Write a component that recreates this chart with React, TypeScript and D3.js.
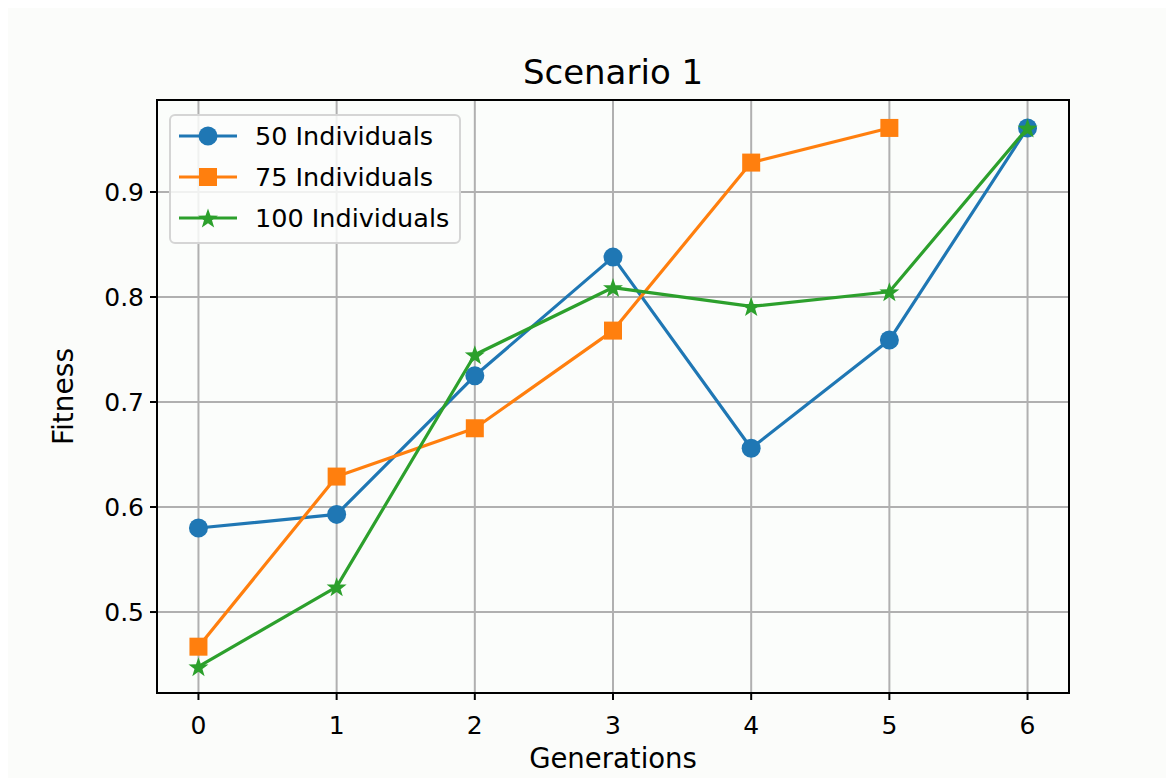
import React from "react";
import * as d3 from "d3";

const generations = [0, 1, 2, 3, 4, 5, 6];
const series50 = [0.58, 0.593, 0.725, 0.838, 0.656, 0.759, 0.961];
const series75 = [0.467, 0.629, 0.675, 0.768, 0.928, 0.961];
const series100 = [0.448, 0.524, 0.745, 0.809, 0.791, 0.805, 0.961];
const yTicks = [0.5, 0.6, 0.7, 0.8, 0.9];
const seriesNames = ["50 Individuals", "75 Individuals", "100 Individuals"];

const W = 1166;
const H = 770;
const M = { left: 149, right: 1061, top: 92, bottom: 685 };
const FONT = "DejaVu Sans, sans-serif";

function starPath(r: number) {
  const pts: string[] = [];
  for (let i = 0; i < 10; i++) {
    const rad = i % 2 === 0 ? r : r * 0.4;
    const a = -Math.PI / 2 + (i * Math.PI) / 5;
    pts.push(`${(rad * Math.cos(a)).toFixed(2)},${(rad * Math.sin(a)).toFixed(2)}`);
  }
  return "M" + pts.join("L") + "Z";
}

function Marker({ kind, x, y, color }: { kind: string; x: number; y: number; color: string }) {
  if (kind === "circle") return <circle cx={x} cy={y} r={9.5} fill={color} />;
  if (kind === "square") return <rect x={x - 9} y={y - 9} width={18} height={18} fill={color} />;
  return <path d={starPath(10.5)} transform={`translate(${x},${y + 1})`} fill={color} />;
}

export default function App() {
  const x = d3.scaleLinear().domain([-0.3, 6.3]).range([M.left, M.right]);
  const y = d3.scaleLinear().domain([0.4229, 0.9876]).range([M.bottom, M.top]);
  const line = d3
    .line<[number, number]>()
    .x((d) => x(d[0]))
    .y((d) => y(d[1]));

  const all = [
    { name: seriesNames[0], data: series50, color: "#1f77b4", kind: "circle" },
    { name: seriesNames[1], data: series75, color: "#ff7f0e", kind: "square" },
    { name: seriesNames[2], data: series100, color: "#2ca02c", kind: "star" },
  ];

  return (
    <svg width={W} height={H} style={{ display: "block", background: "#fbfcfa" }}>
      <rect x={0} y={0} width={W} height={H} fill="#fbfcfa" />
      <rect x={M.left} y={M.top} width={M.right - M.left} height={M.bottom - M.top} fill="#fbfdfb" />
      {/* grid */}
      {generations.map((g) => (
        <line key={"gx" + g} x1={x(g)} x2={x(g)} y1={M.top} y2={M.bottom} stroke="#b0b0b0" strokeWidth={2} />
      ))}
      {yTicks.map((t) => (
        <line key={"gy" + t} x1={M.left} x2={M.right} y1={y(t)} y2={y(t)} stroke="#b0b0b0" strokeWidth={2} />
      ))}
      {/* series */}
      {all.map((s) => {
        const pts = s.data.map((v, i) => [generations[i], v] as [number, number]);
        return (
          <g key={s.name}>
            <path d={line(pts) || ""} fill="none" stroke={s.color} strokeWidth={3.2} strokeLinejoin="round" />
            {pts.map((p, i) => (
              <Marker key={i} kind={s.kind} x={x(p[0])} y={y(p[1])} color={s.color} />
            ))}
          </g>
        );
      })}
      {/* spines */}
      <rect x={M.left} y={M.top} width={M.right - M.left} height={M.bottom - M.top} fill="none" stroke="#000" strokeWidth={2} />
      {/* x ticks */}
      {generations.map((g) => (
        <g key={"xt" + g}>
          <line x1={x(g)} x2={x(g)} y1={M.bottom} y2={M.bottom + 7} stroke="#000" strokeWidth={2} />
          <text x={x(g)} y={M.bottom + 41} textAnchor="middle" fontFamily={FONT} fontSize={25} fill="#000">
            {g}
          </text>
        </g>
      ))}
      {yTicks.map((t) => (
        <g key={"yt" + t}>
          <line x1={M.left - 7} x2={M.left} y1={y(t)} y2={y(t)} stroke="#000" strokeWidth={2} />
          <text x={M.left - 13} y={y(t) + 9} textAnchor="end" fontFamily={FONT} fontSize={25} fill="#000">
            {t.toFixed(1)}
          </text>
        </g>
      ))}
      {/* labels */}
      <text x={(M.left + M.right) / 2} y={76} textAnchor="middle" fontFamily={FONT} fontSize={34} fill="#000">
        Scenario 1
      </text>
      <text x={(M.left + M.right) / 2} y={760} textAnchor="middle" fontFamily={FONT} fontSize={27.5} fill="#000">
        Generations
      </text>
      <text
        transform={`translate(65,${(M.top + M.bottom) / 2}) rotate(-90)`}
        textAnchor="middle"
        fontFamily={FONT}
        fontSize={28}
        fill="#000"
      >
        Fitness
      </text>
      {/* legend */}
      <g>
        <rect x={162} y={107} width={290} height={128} rx={5} fill="#fbfdfb" fillOpacity={0.85} stroke="#d5d5d5" strokeWidth={2} />
        {all.map((s, i) => {
          const ly = 128 + i * 41;
          return (
            <g key={"lg" + i}>
              <line x1={171} x2={229} y1={ly} y2={ly} stroke={s.color} strokeWidth={3.2} />
              <Marker kind={s.kind} x={200} y={ly} color={s.color} />
              <text x={247} y={ly + 9} fontFamily={FONT} fontSize={25.5} fill="#000">
                {s.name}
              </text>
            </g>
          );
        })}
      </g>
    </svg>
  );
}
